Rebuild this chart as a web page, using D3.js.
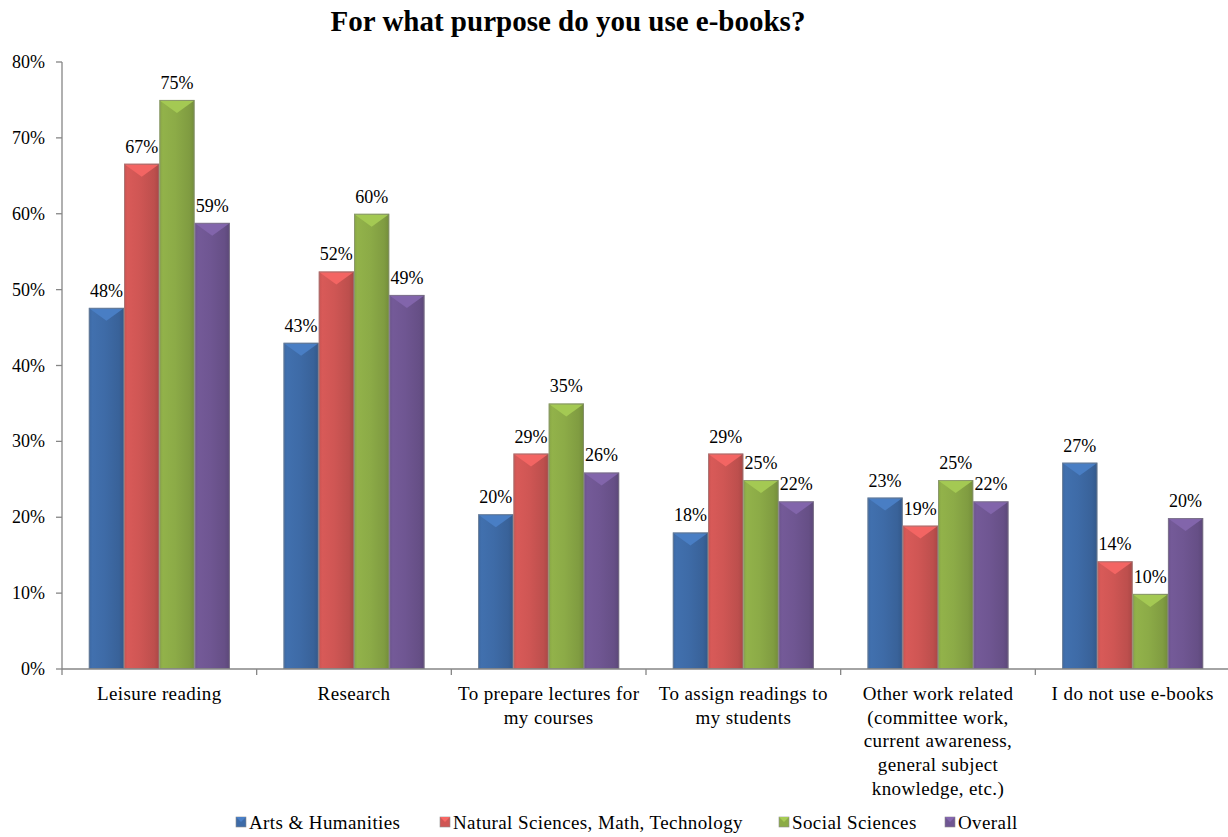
<!DOCTYPE html>
<html><head><meta charset="utf-8">
<script src="https://cdn.jsdelivr.net/npm/d3@7"></script>
<style>body{margin:0;background:#fff}svg{display:block}text{font-family:"Liberation Serif","Times New Roman",serif;fill:#000}</style>
</head><body><svg id="c" width="1228" height="837"></svg>
<script>
const categories = [["Leisure reading"],["Research"],["To prepare lectures for","my courses"],["To assign readings to","my students"],["Other work related","(committee work,","current awareness,","general subject","knowledge, etc.)"],["I do not use e-books"]];
const series = ["Arts & Humanities","Natural Sciences, Math, Technology","Social Sciences","Overall"];
const artsHumanities = [47.6, 43.0, 20.4, 18.0, 22.6, 27.2];
const naturalSciences = [66.6, 52.4, 28.4, 28.4, 18.9, 14.2];
const socialSciences = [75.0, 60.0, 35.0, 24.9, 24.9, 9.9];
const overall = [58.8, 49.3, 25.9, 22.1, 22.1, 19.9];
const labels = [["48%","43%","20%","18%","23%","27%"],["67%","52%","29%","29%","19%","14%"],["75%","60%","35%","25%","25%","10%"],["59%","49%","26%","22%","22%","20%"]];
const yTicks = [0,10,20,30,40,50,60,70,80];
const colors = ["#3e6ba7","#cf5654","#8cab47","#6f5692"];
const values = [artsHumanities, naturalSciences, socialSciences, overall];

const svg = d3.select("#c");
const catIdx = categories.map((d,i)=>i);
const x0 = d3.scaleBand().domain(catIdx).range([62,1230]).padding(0);
const x1 = d3.scaleBand().domain(d3.range(series.length)).range([0,x0.bandwidth()]).paddingInner(0).paddingOuter(0.76);
const y = d3.scaleLinear().domain([0,80]).range([669,62]);

svg.append("text").attr("x",568).attr("y",31).attr("text-anchor","middle")
  .style("font-size","29px").style("font-weight","bold").text("For what purpose do you use e-books?");

const defs = svg.append("defs");
colors.forEach((c,i)=>{
  const g = defs.append("linearGradient").attr("id","g"+i).attr("x1","0").attr("x2","1").attr("y1","0").attr("y2","0");
  const base = d3.color(c);
  g.append("stop").attr("offset","0").attr("stop-color",base.darker(0.1));
  g.append("stop").attr("offset","0.1").attr("stop-color",base.brighter(0.12));
  g.append("stop").attr("offset","0.45").attr("stop-color",base);
  g.append("stop").attr("offset","0.85").attr("stop-color",base.darker(0.25));
  g.append("stop").attr("offset","1").attr("stop-color",base.darker(0.55));
});

const axisColor = "#868686";
svg.append("line").attr("x1",62).attr("x2",62).attr("y1",y(80)).attr("y2",y(0)).attr("stroke",axisColor).attr("stroke-width",1.3);
yTicks.forEach(t=>{
  svg.append("line").attr("x1",56).attr("x2",62).attr("y1",y(t)).attr("y2",y(t)).attr("stroke",axisColor).attr("stroke-width",1.3);
  svg.append("text").attr("x",45).attr("y",y(t)+6).attr("text-anchor","end").style("font-size","18px").text(t+"%");
});

values.forEach((vals,s)=>{
  const base = d3.color(colors[s]);
  vals.forEach((v,c)=>{
    const bx = x0(c)+x1(s), bw = x1.bandwidth(), by = y(v), bh = y(0)-y(v);
    const g = svg.append("g");
    g.append("rect").attr("x",bx).attr("y",by).attr("width",bw).attr("height",bh).attr("fill","url(#g"+s+")");
    const d = Math.min(13, bh);
    g.append("path").attr("d",`M${bx+1},${by+1}L${bx+bw-1},${by+1}L${bx+bw/2},${by+d}Z`).attr("fill",base.brighter(0.45));
    g.append("rect").attr("x",bx+0.5).attr("y",by+0.5).attr("width",bw-1).attr("height",bh-1)
      .attr("fill","none").attr("stroke","#8c8c8c").attr("stroke-width",1).attr("opacity",0.55);
    svg.append("text").attr("x",bx+bw/2).attr("y",by-11).attr("text-anchor","middle").style("font-size","18px").text(labels[s][c]);
  });
});

svg.append("line").attr("x1",62).attr("x2",1230).attr("y1",y(0)).attr("y2",y(0)).attr("stroke",axisColor).attr("stroke-width",1.3);
catIdx.forEach(i=>{
  const tx = x0(i);
  svg.append("line").attr("x1",tx).attr("x2",tx).attr("y1",y(0)).attr("y2",y(0)+6).attr("stroke",axisColor).attr("stroke-width",1.3);
  const t = svg.append("text").attr("text-anchor","middle").style("font-size","19px").style("letter-spacing","0.4px");
  categories[i].forEach((line,k)=>{
    t.append("tspan").attr("x",x0(i)+x0.bandwidth()/2).attr("y",700+k*23.7).text(line);
  });
});

const legendX = [236,440,779,945];
series.forEach((s,i)=>{
  const base = d3.color(colors[i]);
  svg.append("rect").attr("x",legendX[i]).attr("y",817).attr("width",10).attr("height",10).attr("fill",colors[i]).attr("stroke","#8c8c8c").attr("stroke-width",0.6);
  svg.append("path").attr("d",`M${legendX[i]},${817}L${legendX[i]+10},${817}L${legendX[i]+5},${822}Z`).attr("fill",base.brighter(0.5));
  svg.append("text").attr("x",legendX[i]+13).attr("y",829).style("font-size","19px").style("letter-spacing","0.4px").text(s);
});
</script></body></html>
